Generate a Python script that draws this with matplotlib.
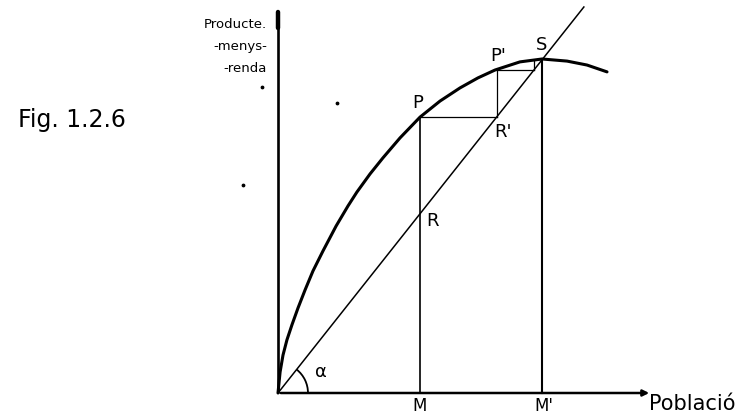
import matplotlib
matplotlib.use("Agg")
import matplotlib.pyplot as plt
from matplotlib.patches import Arc
import numpy as np

# figure geometry (pixels) -- diagram origin and drawing scale
W, H = 747, 415
ORIGIN_PX = (278, 393)
SCALE = 26.3  # pixels per unit

# production curve (poblacio, producte)
curve_x = [0.00, 0.08, 0.19, 0.34, 0.53, 0.76, 1.03, 1.33, 1.71, 2.21, 2.66, 3.00, 3.50,
           3.99, 4.64, 5.40, 6.16, 6.92, 7.60, 8.25, 9.20, 10.04, 10.99, 11.75, 12.51]
curve_y = [0.00, 0.80, 1.44, 2.02, 2.59, 3.23, 3.92, 4.64, 5.40, 6.35, 7.11, 7.64, 8.33,
           8.94, 9.70, 10.49, 11.10, 11.60, 11.98, 12.28, 12.59, 12.70, 12.62, 12.47, 12.21]

# ray from origin (angle alpha)
ray_slope = 1.262
ray_end_x = 11.63

# points of the construction
M_x = 5.40
M2_x = 10.04
P = (5.40, 10.49)
R = (5.40, 6.81)
R2 = (8.31, 10.49)
P2 = (8.31, 12.30)
step_x = 9.75
step_top = 12.62
S = (10.04, 12.67)

x_axis_end = 14.22
y_axis_end = 14.49

# specks on the scan
speck_x = [-0.61, 2.24, -1.33]
speck_y = [11.63, 11.03, 7.91]

fig = plt.figure(figsize=(W / 100, H / 100), dpi=100)
ax = fig.add_axes([0, 0, 1, 1])
ax.set_xlim(-ORIGIN_PX[0] / SCALE, (W - ORIGIN_PX[0]) / SCALE)
ax.set_ylim(-(H - ORIGIN_PX[1]) / SCALE, ORIGIN_PX[1] / SCALE)
ax.axis("off")

ink = "black"

# axes of the diagram
ax.plot([0, 0], [0, y_axis_end], color=ink, lw=1.9, solid_capstyle="butt")
ax.plot([0, 0], [y_axis_end - 0.6, y_axis_end], color=ink, lw=3.2, solid_capstyle="round")
ax.annotate("", xy=(x_axis_end, 0), xytext=(0, 0),
            arrowprops=dict(arrowstyle="-|>", color=ink, lw=1.8, mutation_scale=9))

# curve and ray
ax.plot(curve_x, curve_y, color=ink, lw=2.2, solid_capstyle="round", solid_joinstyle="round")
ax.plot([0, ray_end_x], [0, ray_slope * ray_end_x], color=ink, lw=1.1)

# verticals at M and M'
ax.plot([M_x, M_x], [0, P[1]], color=ink, lw=1.2)
ax.plot([M2_x, M2_x], [0, S[1]], color=ink, lw=1.5)

# staircase P -> R' -> P' -> ... -> S
ax.plot([P[0], R2[0]], [P[1], R2[1]], color=ink, lw=0.9)
ax.plot([R2[0], P2[0]], [R2[1], P2[1]], color=ink, lw=0.9)
ax.plot([P2[0], step_x], [P2[1], P2[1]], color=ink, lw=0.9)
ax.plot([step_x, step_x], [P2[1], step_top], color=ink, lw=0.9)

# angle alpha
arc = Arc((0, 0), 2 * 1.14, 2 * 1.14, theta1=0, theta2=np.degrees(np.arctan(ray_slope)),
          color=ink, lw=1.3)
ax.add_patch(arc)

ax.scatter(speck_x, speck_y, s=3, color=ink)

lab = dict(textcoords="offset points", ha="center", va="center", color=ink, fontsize=13)
ax.annotate("P", xy=P, xytext=(-1.5, 10), **lab)
ax.annotate("P'", xy=P2, xytext=(1.5, 10), **lab)
ax.annotate("S", xy=S, xytext=(0, 11), **lab)
ax.annotate("R'", xy=R2, xytext=(5, -11), **lab)
ax.annotate("R", xy=R, xytext=(9, -5), **lab)
ax.annotate("α", xy=(0, 0), xytext=(31, 15), **lab)
ax.annotate("M", xy=(M_x, 0), xytext=(0, -9), fontsize=12, textcoords="offset points",
            ha="center", va="center")
ax.annotate("M'", xy=(M2_x, 0), xytext=(1, -9), fontsize=12, textcoords="offset points",
            ha="center", va="center")
ax.annotate("Població", xy=(x_axis_end, 0), xytext=(-2, -8), fontsize=15,
            textcoords="offset points", ha="left", va="center")

# y-axis label, hand-lettered in three pieces
fig.text(267 / W, 1 - 28 / H, "Producte.", ha="right", va="baseline", fontsize=9.5)
fig.text(267 / W, 1 - 50 / H, "-menys-", ha="right", va="baseline", fontsize=9.5)
fig.text(267 / W, 1 - 72 / H, "-renda", ha="right", va="baseline", fontsize=9.5)

fig.text(18 / W, 1 - 127 / H, "Fig. 1.2.6", ha="left", va="baseline", fontsize=17)

fig.savefig("out.png", dpi=100)
